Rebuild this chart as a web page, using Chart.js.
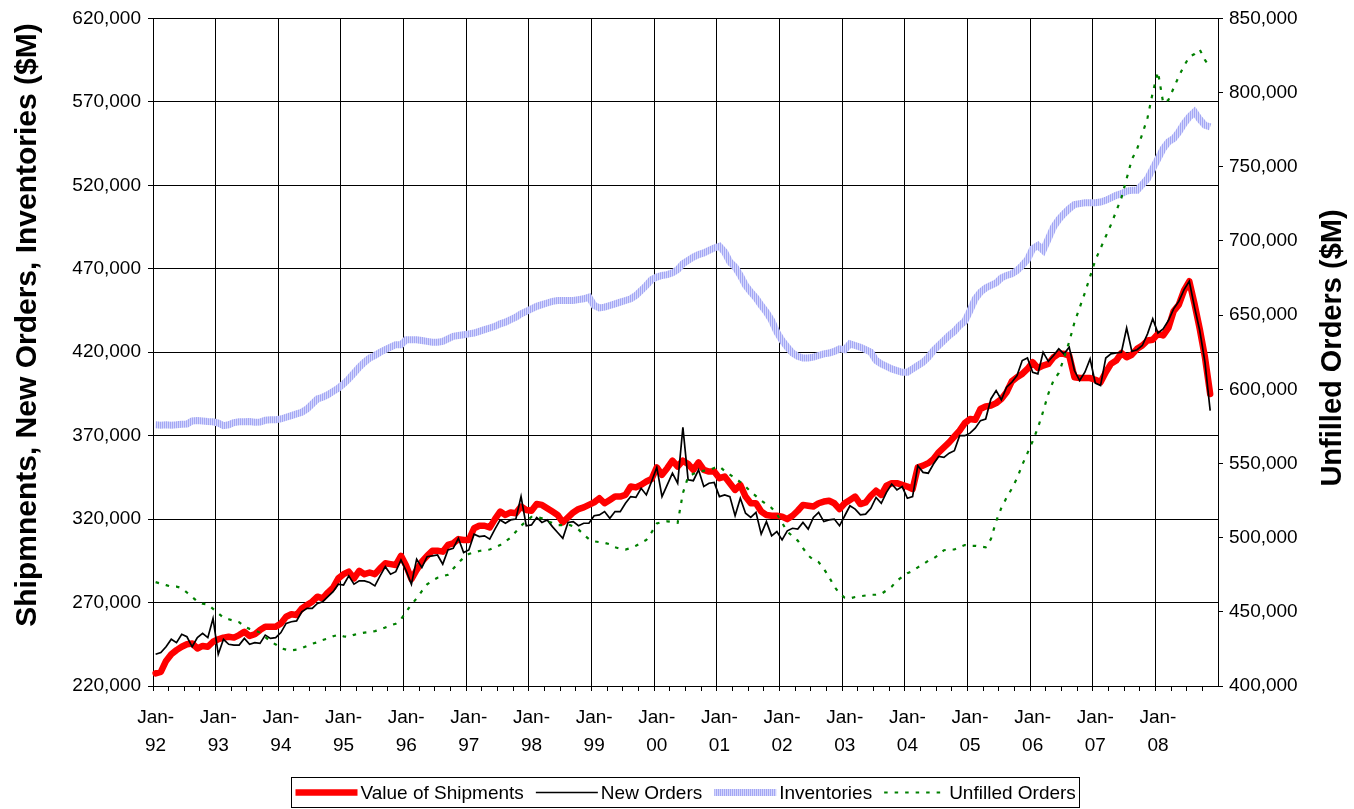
<!DOCTYPE html>
<html lang="en">
<head>
<meta charset="utf-8">
<title>Shipments, New Orders, Inventories and Unfilled Orders</title>
<script src="https://cdn.jsdelivr.net/npm/chart.js@4.4.1/dist/chart.umd.min.js"></script>
<style>
  html, body { margin: 0; padding: 0; background: #fff; }
  #wrap { position: relative; width: 1354px; height: 809px; }
</style>
</head>
<body>
<div id="wrap"><canvas id="chart"></canvas></div>
<script>
// categories: one per month, Jan-92 .. Dec-08
const years = ['92','93','94','95','96','97','98','99','00','01','02','03','04','05','06','07','08'];
const months = ['Jan','Feb','Mar','Apr','May','Jun','Jul','Aug','Sep','Oct','Nov','Dec'];
const labels = [];
years.forEach(y => months.forEach(m => labels.push(m + '-' + y)));

// $M, monthly, Jan-92 .. Nov-08
const shipments = [
  227600, 228500, 235000, 239000, 241500, 243500, 245000, 245500, 242500, 244000, 243500, 246500,
  248000, 249000, 249500, 249000, 250500, 252500, 250000, 251000, 253500, 255500, 255500, 255500,
  257500, 261500, 263000, 262500, 266500, 268500, 270500, 273500, 272500, 276000, 279000, 284500,
  287000, 288500, 284500, 289000, 287000, 288000, 287000, 290500, 293500, 293000, 292500, 298000,
  292000, 284000, 289500, 294500, 298000, 301000, 301000, 300500, 304500, 305500, 308000, 307500,
  307500, 314500, 316000, 316000, 315000, 320000, 324500, 322500, 324000, 323500, 327500, 325500,
  325000, 329000, 328500, 326500, 324500, 322500, 318000, 321000, 324000, 326000, 327000, 328500,
  330000, 332500, 329500, 331500, 333500, 333500, 334500, 339500, 339000, 340500, 342500, 344000,
  351000, 346500, 350500, 355000, 351500, 355000, 353000, 349500, 354000, 349500, 348500, 348500,
  344500, 345500, 341500, 337500, 340500, 333500, 329500, 329500, 324500, 322500, 322000, 322000,
  321500, 320000, 322000, 325000, 328500, 328000, 327500, 329500, 330500, 331000, 329500, 326000,
  329500, 331500, 333500, 329000, 330000, 334000, 337000, 334500, 340000, 341500, 341500, 340500,
  339500, 338000, 351000, 352000, 353500, 356000, 360000, 363000, 366000, 369500, 373000, 377500,
  380000, 379500, 386000, 387500, 388000, 389500, 392000, 396000, 402500, 405000, 407000, 410000,
  414000, 410500, 412000, 413000, 417000, 419000, 419000, 418000, 405000, 404500, 404500, 404500,
  403500, 402000, 408000, 413000, 415000, 419500, 417000, 418500, 422000, 424000, 427000, 427500,
  431000, 430000, 434500, 444500, 448500, 457000, 462500, 449000, 434000, 417000, 395000
];
const newOrders = [
  239000, 240000, 243500, 248000, 246000, 251000, 249500, 243500, 249000, 251500, 249000, 260500,
  239000, 248000, 245000, 244500, 244500, 248500, 245000, 246000, 245500, 250500, 248500, 249000,
  252000, 257500, 258500, 259000, 264500, 266500, 266500, 269500, 270500, 273500, 276500, 281000,
  280500, 286000, 281000, 283000, 283000, 282000, 280000, 286000, 291500, 287000, 288500, 295500,
  289000, 281000, 296000, 291000, 297500, 298000, 298500, 293000, 301500, 302500, 308500, 300000,
  301500, 311000, 309500, 310000, 308000, 314000, 319500, 317500, 319500, 320000, 333500, 316000,
  316500, 321000, 318000, 319500, 315500, 312000, 308500, 318000, 318500, 316000, 317500, 317500,
  322000, 322500, 324500, 320500, 324500, 324500, 329500, 333500, 333000, 338500, 334500, 342500,
  351000, 333500, 340500, 347500, 341500, 375000, 343500, 343000, 349500, 339500, 341500, 342000,
  333500, 334500, 333500, 322000, 332500, 323500, 321000, 324000, 311000, 318500, 310000, 312500,
  307500, 313000, 314500, 314000, 318000, 314000, 321000, 324000, 318500, 319500, 320000, 316000,
  322000, 328000, 326000, 322500, 323000, 326500, 333000, 329500, 336000, 341000, 337500, 339500,
  332500, 333500, 352000, 348000, 347500, 353000, 357500, 357000, 359500, 361000, 370000, 370000,
  371500, 374500, 379000, 380000, 392000, 397000, 391500, 399000, 402000, 406000, 415000, 416500,
  408000, 407000, 420000, 414500, 418000, 422000, 419000, 423000, 409000, 403000, 408000, 416000,
  401500, 400000, 416500, 419000, 419500, 420000, 434500, 420500, 421500, 424000, 431000, 440000,
  431500, 434000, 439000, 446000, 450500, 457500, 462500, 447000, 433000, 414000, 385000
];
const inventories = [
  376500, 376300, 376500, 376300, 376500, 376800, 377000, 378800, 379000, 378800, 378500, 378300,
  377500, 376000, 376500, 377800, 378300, 378300, 378500, 378000, 378200, 379200, 379500, 379500,
  380000, 381000, 382000, 383000, 384000, 386000, 389000, 392000, 393000, 394500, 396500, 398500,
  401000, 404000, 407500, 411000, 414000, 416500, 418000, 420000, 421500, 423000, 424500, 424500,
  427500, 427500, 427500, 427000, 426500, 426000, 426000, 426500, 428000, 429500, 430000, 430500,
  431000, 431500, 432500, 433500, 434500, 435500, 437000, 438000, 439500, 441000, 443000, 444500,
  446000, 447500, 448500, 449500, 450500, 451000, 451000, 451000, 451000, 451500, 452000, 453000,
  448000, 446500, 447000, 448000, 449000, 450000, 451000, 452000, 454000, 457000, 460000, 463500,
  465000, 466000, 466500, 467500, 469500, 473000, 475000, 477000, 478500, 479500, 481000, 482500,
  483500, 480000, 474000, 471000, 466000, 460000, 456000, 452500, 448000, 444000, 439000, 432000,
  427000, 423000, 419500, 417500, 416500, 416500, 417000, 418000, 419000, 419500, 420500, 422000,
  421500, 425000, 424000, 423000, 421500, 420000, 415000, 413000, 411500, 410000, 409000, 408000,
  408000, 410000, 412000, 414000, 417000, 421000, 424000, 427000, 430000, 432500, 436000, 438500,
  445000, 452000, 456000, 458500, 460000, 461500, 464500, 466000, 467000, 469000, 472000, 475500,
  482000, 484000, 481000, 488000, 495000, 499500, 503000, 506000, 508500, 509000, 509500, 509500,
  509500, 510000, 511000, 512500, 514000, 515000, 516500, 517000, 517000, 520500, 524000, 530000,
  536000, 542000, 546000, 548000, 552000, 557000, 561000, 564000, 559500, 556000, 555000
];
const unfilled = [
  470000, 469000, 468000, 467000, 467000, 466000, 463000, 460000, 457000, 455500, 455000, 452000,
  449000, 446000, 445000, 444000, 443000, 440000, 438500, 437500, 436000, 433000, 430000, 428000,
  425500, 424500, 424000, 424500, 425500, 427000, 428500, 429500, 431000, 432000, 433500, 434500,
  433500, 433000, 434500, 435500, 436000, 436500, 437000, 438000, 439500, 441000, 442000, 445000,
  450000, 455000, 459000, 464000, 468500, 471000, 473000, 474000, 475000, 479000, 483000, 486500,
  489000, 490000, 491000, 491500, 492000, 493500, 495000, 497500, 500000, 504000, 508000, 511000,
  514000, 514000, 513000, 511000, 510000, 508500, 508500, 509000, 507500, 505500, 502000, 499000,
  497500, 497000, 496500, 495500, 493500, 492500, 492000, 493000, 494500, 496500, 498500, 503500,
  509500, 510500, 511000, 510500, 510000, 530000, 541000, 543000, 544500, 545000, 545500, 547000,
  548000, 545000, 542500, 540000, 537500, 534500, 531000, 528000, 525000, 522500, 520000, 516000,
  510000, 504000, 501000, 498000, 493000, 488000, 485000, 483500, 479000, 473500, 467000, 462500,
  459500, 459000, 460000, 460500, 461000, 461500, 461500, 462000, 464500, 467000, 471000, 473500,
  476000, 477500, 480000, 482000, 484500, 486000, 488500, 491500, 492000, 492000, 493500, 495000,
  494500, 494500, 494000, 493500, 499000, 511000, 520000, 527000, 533000, 540000, 549000, 557000,
  565000, 574000, 585000, 597000, 606000, 611000, 621000, 632000, 645000, 655000, 665000, 676000,
  687000, 695000, 703000, 711000, 720000, 729000, 742000, 755000, 762000, 772000, 783000, 800000,
  814000, 793000, 795000, 803000, 811000, 818000, 824000, 826000, 829000, 822000, 817000
];

const FONT = 'Arial, "Liberation Sans", sans-serif';
const canvas = document.getElementById('chart');
const ctx0 = canvas.getContext('2d');

// striped lavender line like the Excel patterned line
function stripePattern() {
  const c = document.createElement('canvas');
  c.width = 2; c.height = 1;
  const g = c.getContext('2d');
  g.fillStyle = '#a3a7f4'; g.fillRect(0, 0, 1, 1);
  g.fillStyle = '#d4d6fc'; g.fillRect(1, 0, 1, 1);
  return ctx0.createPattern(c, 'repeat');
}

const fmt = v => String(v).replace(/\B(?=(\d{3})+(?!\d))/g, ',');
const clear = 'rgba(0,0,0,0)';

// axis titles and boxed legend
const decor = {
  id: 'decor',
  afterDraw(chart) {
    const ctx = chart.ctx, a = chart.chartArea;
    ctx.save();
    ctx.fillStyle = '#000';
    ctx.textAlign = 'center';
    ctx.textBaseline = 'middle';
    ctx.save();
    ctx.font = 'bold 30px ' + FONT;
    ctx.translate(28, 325);
    ctx.rotate(-Math.PI / 2);
    ctx.fillText('Shipmnents, New Orders, Inventories ($M)', 0, 0);
    ctx.restore();
    ctx.save();
    ctx.font = 'bold 29px ' + FONT;
    ctx.translate(1333, 348);
    ctx.rotate(-Math.PI / 2);
    ctx.fillText('Unfilled Orders ($M)', 0, 0);
    ctx.restore();

    const sets = chart.data.datasets;
    ctx.font = '19px ' + FONT;
    const sample = 62, gap = 3, space = 12, pad = 4;
    const widths = sets.map(d => ctx.measureText(d.label).width);
    const total = widths.reduce((s, w) => s + sample + gap + w, 0) + space * (sets.length - 1) + pad * 2;
    const left = Math.round((a.left + a.right) / 2 - total / 2) + 0.5;
    const top = 777.5, h = 30;
    ctx.strokeStyle = '#000';
    ctx.lineWidth = 1;
    ctx.strokeRect(left, top, Math.round(total), h);
    let x = left + pad;
    const y = top + h / 2;
    sets.forEach((d, i) => {
      ctx.save();
      ctx.beginPath();
      ctx.strokeStyle = d.borderColor;
      ctx.lineWidth = d.borderWidth;
      ctx.setLineDash(d.borderDash || []);
      ctx.lineCap = 'butt';
      ctx.moveTo(x, y);
      ctx.lineTo(x + sample, y);
      ctx.stroke();
      ctx.restore();
      x += sample + gap;
      ctx.fillStyle = '#000';
      ctx.textAlign = 'left';
      ctx.textBaseline = 'middle';
      ctx.fillText(d.label, x, y + 1);
      x += widths[i] + space;
    });
    ctx.restore();
  }
};

new Chart(canvas, {
  type: 'line',
  data: {
    labels: labels,
    datasets: [
      {
        label: 'Value of Shipments',
        data: shipments,
        borderColor: '#ff0000',
        borderWidth: 6.5,
        borderJoinStyle: 'round',
        borderCapStyle: 'round',
        yAxisID: 'y',
        order: 3
      },
      {
        label: 'New Orders',
        data: newOrders,
        borderColor: '#000000',
        borderWidth: 1.7,
        yAxisID: 'y',
        order: 2
      },
      {
        label: 'Inventories',
        data: inventories,
        borderColor: stripePattern(),
        borderWidth: 7,
        yAxisID: 'y',
        order: 4
      },
      {
        label: 'Unfilled Orders',
        data: unfilled,
        borderColor: '#008000',
        borderWidth: 2.2,
        borderDash: [3.5, 7],
        yAxisID: 'y2',
        order: 1
      }
    ]
  },
  options: {
    responsive: true,
    maintainAspectRatio: false,
    animation: false,
    elements: { point: { radius: 0, hoverRadius: 0 }, line: { tension: 0, fill: false } },
    layout: { padding: { top: 18, bottom: 53, left: 0, right: 0 } },
    plugins: { legend: { display: false }, tooltip: { enabled: false } },
    scales: {
      x: {
        type: 'category',
        offset: true,
        grid: {
          offset: true,
          lineWidth: 1,
          tickLength: 5,
          color: c => (c.index % 12 === 0 ? '#000' : clear),
          tickColor: c => (c.index % 3 === 0 ? '#000' : clear)
        },
        border: { color: '#000', width: 1 },
        ticks: {
          autoSkip: false,
          maxRotation: 0,
          minRotation: 0,
          padding: 13,
          color: '#000',
          font: { family: FONT, size: 19, lineHeight: '28px' },
          callback: (v, i) => (i % 12 === 0 ? ['Jan-', labels[i].slice(4)] : '')
        },
        afterFit: s => { s.height = 70; }
      },
      y: {
        position: 'left',
        min: 220000,
        max: 620000,
        grid: { color: '#000', lineWidth: 1, tickLength: 5 },
        border: { color: '#000', width: 1 },
        ticks: {
          stepSize: 50000,
          padding: 7,
          color: '#000',
          font: { family: FONT, size: 19 },
          callback: v => fmt(v)
        },
        afterFit: s => { s.width = 153; }
      },
      y2: {
        position: 'right',
        min: 400000,
        max: 850000,
        grid: { drawOnChartArea: false, color: '#000', tickLength: 5 },
        border: { color: '#000', width: 1 },
        ticks: {
          stepSize: 50000,
          padding: 6,
          color: '#000',
          font: { family: FONT, size: 19 },
          callback: v => fmt(v)
        },
        afterFit: s => { s.width = 136; }
      }
    }
  },
  plugins: [decor]
});
</script>
</body>
</html>
